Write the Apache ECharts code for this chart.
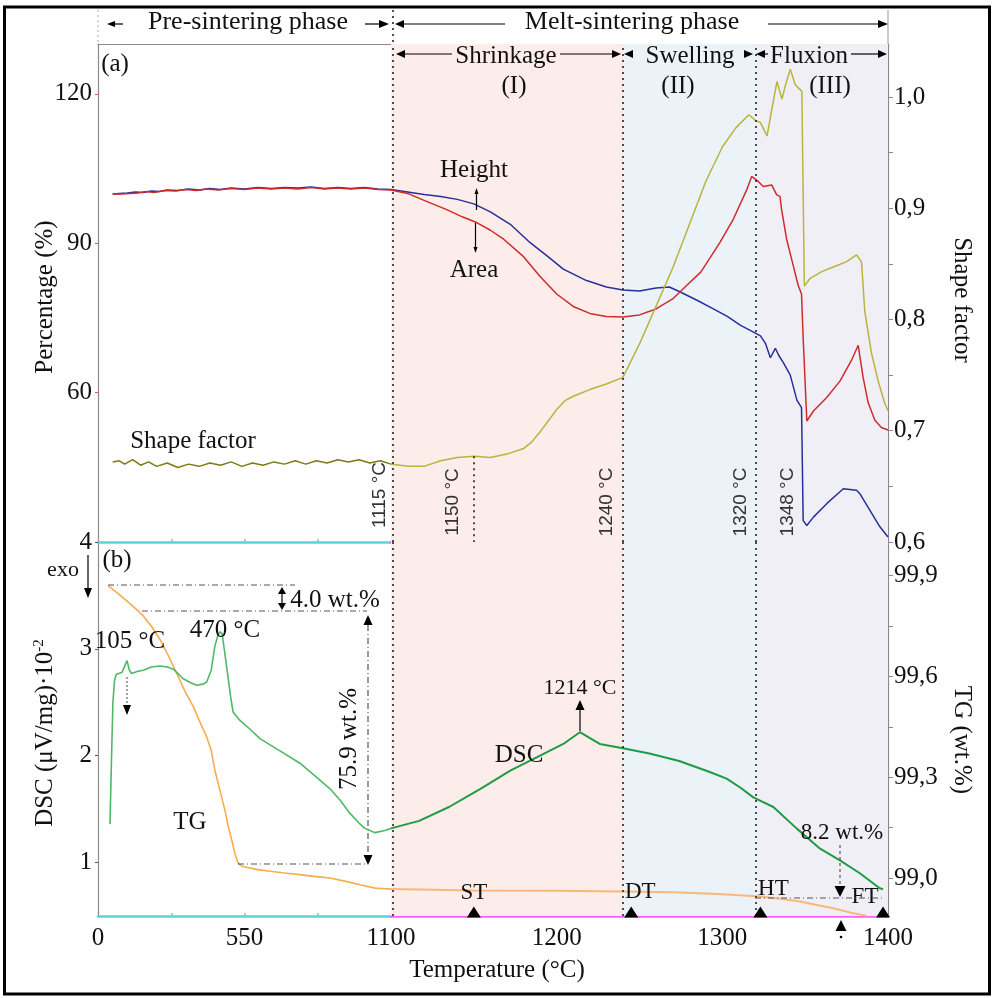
<!DOCTYPE html>
<html><head><meta charset="utf-8">
<script src="https://cdn.jsdelivr.net/npm/echarts@6/dist/echarts.min.js"></script>
<style>html,body{margin:0;padding:0;background:#fff}#c{width:995px;height:998px}</style>
</head><body><div id="c"></div>
<script>
// ---------------- DATA ----------------
// Temperature (°C) vs Height (%) — pre-sintering (0–1100) and melt-sintering (1100–1400)
const heightLeft = [[55,99.9],[80,100],[110,100.1],[140,100.3],[170,100.2],[200,100.5],[230,100.4],[260,100.7],[300,100.6],[340,100.9],[380,100.7],[420,101],[460,100.8],[500,101.1],[550,100.9],[600,101.2],[650,101],[700,101.2],[750,101.1],[800,101.3],[850,101],[900,101.2],[950,101],[1000,101.2],[1050,100.9],[1100,100.8]];
const heightRight = [[1100,100.8],[1110,100.3],[1120,99.8],[1130,99.4],[1140,98.8],[1150,97.9],[1160,96.3],[1172,93.8],[1184,90.1],[1194,87.5],[1204,84.8],[1218,82.5],[1230,81.2],[1240,80.6],[1250,80.4],[1260,81.0],[1268,81.2],[1274,80.3],[1285,78.5],[1294,76.9],[1303,75.3],[1311,73.5],[1318,72.3],[1323,71.4],[1326,69.9],[1329,67.0],[1332,68.9],[1334,67.5],[1337,65.9],[1341,63.5],[1345,58.5],[1347.8,57],[1348.8,34.3],[1351,33.3],[1355,35],[1363,37.7],[1371,40.1],[1373,40.7],[1381,40.4],[1383,39.7],[1389,36.4],[1395,33.1],[1400,31]];
// Area (%)
const areaLeft = [[55,99.9],[90,99.9],[120,100],[150,100.1],[180,100.4],[210,100.2],[250,100.6],[290,100.5],[330,100.8],[370,100.6],[410,100.9],[450,100.7],[500,101],[550,100.8],[600,101.1],[650,100.9],[700,101.1],[750,100.9],[800,101.2],[850,100.9],[900,101.1],[950,100.9],[1000,101.1],[1050,100.8],[1100,100.7]];
const areaRight = [[1100,100.7],[1110,100],[1120,98.6],[1134,96.7],[1143,95.3],[1152,94.1],[1160,92.6],[1168,90.8],[1180,87.3],[1190,83.3],[1200,79.8],[1210,77.3],[1220,75.9],[1230,75.3],[1240,75.2],[1250,75.6],[1260,76.8],[1270,78.8],[1280,82],[1287,84.2],[1298.5,90.1],[1306.6,94.8],[1314.7,100.7],[1317.7,103.4],[1321.7,102.4],[1324.7,101.4],[1329.8,101.7],[1332.8,99.7],[1334.8,99.4],[1335.8,96.7],[1338.8,90.8],[1342.8,85.5],[1345.8,81.5],[1347.8,79.8],[1348.8,70.9],[1351,54.3],[1355,56.3],[1363,59],[1371,62.3],[1378,66.5],[1382,69.5],[1385,63],[1388,58],[1392,54.5],[1396,53],[1400,52.5]];
// Shape factor
const shapeLeft = [[55,0.672],[80,0.673],[100,0.670],[130,0.674],[160,0.669],[190,0.672],[220,0.668],[260,0.671],[300,0.667],[340,0.670],[380,0.668],[420,0.671],[460,0.669],[500,0.672],[540,0.668],[580,0.671],[620,0.669],[660,0.672],[700,0.670],[740,0.673],[780,0.670],[820,0.673],[860,0.671],[900,0.674],[940,0.672],[980,0.674],[1020,0.671],[1060,0.673],[1100,0.670]];
const shapeRight = [[1100,0.670],[1110,0.668],[1120,0.668],[1130,0.673],[1140,0.676],[1150,0.677],[1160,0.676],[1170,0.679],[1180,0.684],[1185,0.690],[1190,0.699],[1195,0.709],[1200,0.719],[1205,0.727],[1210,0.731],[1220,0.737],[1230,0.742],[1240,0.748],[1250,0.778],[1260,0.812],[1270,0.846],[1280,0.885],[1290,0.924],[1300,0.955],[1308,0.972],[1316,0.984],[1320,0.979],[1323,0.977],[1327,0.965],[1330,0.990],[1333,1.014],[1336,0.998],[1338,1.010],[1341,1.025],[1344,1.011],[1348,1.005],[1349.5,0.830],[1353,0.837],[1360,0.843],[1365,0.846],[1370,0.849],[1375,0.852],[1381,0.858],[1384,0.852],[1386,0.807],[1390,0.770],[1394,0.745],[1398,0.725],[1400,0.718]];
// DSC (µV/mg ×10^-2)
const dscLeft = [[45,1.36],[50,1.9],[56,2.5],[62,2.7],[68,2.76],[90,2.78],[109,2.89],[118,2.8],[126,2.77],[150,2.79],[170,2.8],[200,2.83],[233,2.84],[260,2.83],[283,2.81],[320,2.72],[350,2.68],[370,2.66],[395,2.67],[408,2.69],[425,2.8],[439,3.03],[452,3.14],[458,3.16],[466,3.14],[475,2.98],[482,2.85],[489,2.72],[498,2.55],[507,2.41],[533,2.33],[570,2.25],[608,2.16],[680,2.05],[758,1.93],[820,1.8],[871,1.69],[910,1.58],[946,1.46],[980,1.37],[1002,1.32],[1040,1.28],[1077,1.30],[1100,1.32]];
const dscRight = [[1100,1.32],[1117,1.39],[1135,1.52],[1154,1.69],[1172,1.86],[1190,2.0],[1204,2.11],[1214,2.22],[1226,2.11],[1240,2.07],[1256,2.02],[1274,1.95],[1292,1.85],[1302.6,1.785],[1311,1.7],[1318.7,1.61],[1330.8,1.52],[1344.8,1.32],[1359,1.13],[1371,1.02],[1383,0.90],[1395,0.76],[1397,0.75]];
// TG (wt.%)
const tgLeft = [[38,99.87],[70,99.85],[100,99.83],[130,99.81],[170,99.78],[200,99.75],[233,99.71],[265,99.66],[295,99.61],[330,99.55],[358,99.51],[385,99.46],[408,99.42],[425,99.38],[439,99.32],[458,99.26],[477,99.2],[490,99.15],[503,99.11],[515,99.07],[526,99.045],[540,99.035],[552,99.033],[600,99.025],[646,99.02],[700,99.015],[758,99.01],[810,99.005],[871,99.0],[930,98.99],[984,98.98],[1040,98.97],[1100,98.967]];
const tgRight = [[1100,98.967],[1150,98.963],[1200,98.962],[1240,98.96],[1270,98.958],[1286,98.955],[1300,98.952],[1321,98.946],[1335,98.938],[1347,98.93],[1357,98.92],[1367,98.91],[1379,98.895],[1387,98.888]];
// Characteristic temperatures
const charNames = ['ST','DT','HT','FT'];
const charTemps = [1150,1245,1323,1397];
const phaseBounds = [1100,1240,1320,1400];
const markTemps = [1101,1240,1320];
// Tick labels
const pctTicks = [60,90,120];
const sfTicks = [0.6,0.7,0.8,0.9,1.0];
const dscTicks = [1,2,3,4];
const tgTicks = [99.0,99.3,99.6,99.9];
const xLeftLabels = [0,550,1100];
const xRightLabels = [1200,1300,1400];

// ---------------- STYLE ----------------
const SERIF = '"Liberation Serif","Times New Roman",serif';
const SANS = '"Liberation Sans","DejaVu Sans",sans-serif';
const GRAY = '#8a8a8a', CYAN = '#58d6d6', MAG = '#ff5cff';
const FS = 25;
const SFMAX = 1.0476, TGMIN = 98.887;
const comma = v => (+v).toFixed(1).replace('.', ',');
const plain = v => String(Math.round(v));

const chart = echarts.init(document.getElementById('c'), null, {renderer: 'canvas'});

const gridBase = {containLabel: false, outerBoundsMode: 'none'};
const grids = [
  Object.assign({left: 98, top: 44, width: 293, height: 498}, gridBase),
  Object.assign({left: 391, top: 44, width: 497, height: 498}, gridBase),
  Object.assign({left: 98, top: 542, width: 293, height: 374}, gridBase),
  Object.assign({left: 391, top: 542, width: 497, height: 374}, gridBase)
];

const lblStyle = {color: '#111', fontFamily: SERIF, fontSize: FS};
function xAx(g, min, max, color, ticks, labels) {
  return {gridIndex: g, type: 'value', min, max, position: 'bottom',
    axisLine: {show: true, onZero: false, lineStyle: {color, width: 2.5}},
    axisTick: {show: true, inside: true, length: 3, customValues: ticks, lineStyle: {color, width: 1.5}},
    axisLabel: labels ? Object.assign({customValues: labels, margin: 10, formatter: plain}, lblStyle) : {show: false},
    splitLine: {show: false}};
}
function topAx(g, min, max) {
  return {gridIndex: g, type: 'value', min, max, position: 'top',
    axisLine: {show: true, onZero: false, lineStyle: {color: GRAY, width: 1.2}},
    axisTick: {show: false}, axisLabel: {show: false}, splitLine: {show: false}};
}
function hid(g, min, max, pos) {
  return {gridIndex: g, type: 'value', min, max, position: pos, show: false, splitLine: {show: false}};
}
function yAx(g, min, max, pos, labels, ticks, fmt, tickColor) {
  return {gridIndex: g, type: 'value', min, max, position: pos,
    axisLine: {show: true, onZero: false, lineStyle: {color: GRAY, width: 1.2}},
    axisTick: {show: true, length: pos === 'left' ? 3 : 5, customValues: ticks, lineStyle: {color: tickColor || GRAY, width: 1}},
    axisLabel: Object.assign({customValues: labels, margin: 6, formatter: fmt}, lblStyle),
    splitLine: {show: false}};
}

const xAxis = [
  xAx(0, 0, 1100, CYAN, [275, 550, 825], null),
  xAx(1, 1100, 1400, MAG, [1150, 1200, 1250, 1300, 1350], null),
  xAx(2, 0, 1100, CYAN, [275, 550, 825], xLeftLabels),
  xAx(3, 1100, 1400, MAG, [1150, 1200, 1250, 1300, 1350], xRightLabels),
  topAx(0, 0, 1100),
  topAx(1, 1100, 1400)
];
const yAxis = [
  yAx(0, 30, 130, 'left', pctTicks, pctTicks, plain, '#d55'),
  hid(0, 0.6, SFMAX, 'right'),
  hid(1, 30, 130, 'left'),
  yAx(1, 0.6, SFMAX, 'right', sfTicks, [0.6,0.65,0.7,0.75,0.8,0.85,0.9,0.95,1.0], comma),
  yAx(2, 0.5, 4, 'left', dscTicks, dscTicks, plain, '#555'),
  hid(2, TGMIN, 100, 'right'),
  hid(3, 0.5, 4, 'left'),
  yAx(3, TGMIN, 100, 'right', tgTicks, [99.0,99.15,99.3,99.45,99.6,99.75,99.9], comma)
];

function line(name, data, xi, yi, color, w, z) {
  return {name, type: 'line', data, xAxisIndex: xi, yAxisIndex: yi, showSymbol: false, symbol: 'none',
    lineStyle: {color, width: w || 1.5}, itemStyle: {color}, z: z || 3, silent: true};
}

const phaseColors = ['#fcecea', '#ebf2f8', '#f1eff6'];
function bgSeries(xi, yi, yv, extraLines) {
  const areas = [];
  for (let i = 0; i < 3; i++) {
    areas.push([{xAxis: phaseBounds[i], itemStyle: {color: phaseColors[i]}}, {xAxis: phaseBounds[i + 1]}]);
  }
  const lines = markTemps.map(t => ({xAxis: t})).concat(extraLines || []);
  return {type: 'line', xAxisIndex: xi, yAxisIndex: yi, data: [[1100, yv]], symbol: 'none', showSymbol: false,
    lineStyle: {opacity: 0}, z: 1, silent: true,
    markArea: {silent: true, data: areas, label: {show: false}},
    markLine: {silent: true, symbol: ['none', 'none'], label: {show: false},
      lineStyle: {type: [2, 4], color: '#222', width: 1.6}, data: lines}};
}

const chars = charTemps.map((t, i) => ({value: [t, 0.537], label: {formatter: charNames[i],
  offset: [[0, -19], [9, -20], [13, -23], [-18, -15]][i]}}));

const series = [
  bgSeries(1, 3, 0.6, [[{coord: [1150, 0.677]}, {coord: [1150, 0.6]}]]),
  bgSeries(3, 6, 0.5, []),
  // top-left
  line('Height', heightLeft, 0, 0, '#25309a', 1.5),
  line('Area', areaLeft, 0, 0, '#d02b2b', 1.5),
  line('Shape factor', shapeLeft, 0, 1, '#7f7a16', 1.5),
  // top-right
  line('Height', heightRight, 1, 2, '#25309a', 1.5),
  line('Area', areaRight, 1, 2, '#d02b2b', 1.5),
  line('Shape factor', shapeRight, 1, 3, '#b8b43c', 1.5),
  // bottom-left
  line('TG', tgLeft, 2, 5, '#f6ad4a', 1.6),
  line('DSC', dscLeft, 2, 4, '#4fb868', 1.6),
  // bottom-right
  line('TG', tgRight, 3, 7, '#f7b87a', 2),
  line('DSC', dscRight, 3, 6, '#1f9b45', 2),
  {type: 'scatter', xAxisIndex: 3, yAxisIndex: 6, data: chars, symbol: 'triangle', symbolSize: [14, 11],
    itemStyle: {color: '#000', opacity: 1}, z: 6, silent: true,
    label: {show: true, position: 'inside', color: '#111', fontFamily: SERIF, fontSize: 23}}
];

// ---------------- ANNOTATIONS ----------------
function T(x, y, text, o) {
  o = o || {};
  return {type: 'text', x, y, rotation: o.rot || 0, silent: true, z: 100,
    style: {text, x: 0, y: 0, fill: o.color || '#111', fontFamily: o.family || SERIF, fontSize: o.size || FS,
      align: o.align || 'center', verticalAlign: 'middle', rich: o.rich}};
}
function L(x1, y1, x2, y2, o) {
  o = o || {};
  return {type: 'line', silent: true, z: 99, shape: {x1, y1, x2, y2},
    style: {stroke: o.c || '#000', lineWidth: o.w || 1.2, lineDash: o.dash || null}};
}
function H(x, y, dir, len, wid) {
  len = len || 9; wid = wid || 7;
  let p;
  if (dir === 'up') p = [[x, y], [x - wid / 2, y + len], [x + wid / 2, y + len]];
  if (dir === 'down') p = [[x, y], [x - wid / 2, y - len], [x + wid / 2, y - len]];
  if (dir === 'left') p = [[x, y], [x + len, y - wid / 2], [x + len, y + wid / 2]];
  if (dir === 'right') p = [[x, y], [x - len, y - wid / 2], [x - len, y + wid / 2]];
  return {type: 'polygon', silent: true, z: 100, shape: {points: p}, style: {fill: '#000'}};
}
const DD = [6, 3, 1, 3];
const g = [
  {type: 'rect', silent: true, z: 100, shape: {x: 4.5, y: 7, width: 985, height: 987}, style: {fill: 'none', stroke: '#000', lineWidth: 3}},
  // header separators
  L(98, 10, 98, 44, {c: '#bbb', dash: [2, 3]}),
  L(888, 10, 888, 44, {c: '#aaa'}),
  L(393, 10, 393, 44, {c: '#222', w: 1.6, dash: [2, 4]}),
  // Pre-sintering phase
  L(109, 24, 123, 24), H(107, 24, 'left', 8, 6),
  T(248, 22, 'Pre-sintering phase', {size: 26}),
  L(365, 24, 380, 24), H(389, 24, 'right', 10, 8),
  // Melt-sintering phase
  L(402, 24, 505, 24), H(395, 24, 'left', 9, 8),
  T(632, 22, 'Melt-sintering phase', {size: 26}),
  L(768, 24, 880, 24), H(888, 24, 'right', 10, 8),
  // Shrinkage
  L(404, 54, 452, 54), H(396, 54, 'left', 9, 8),
  T(506, 56, 'Shrinkage'), T(514, 86, '(I)'),
  L(560, 54, 613, 54), H(621, 54, 'right', 9, 8),
  // Swelling
  H(624, 54, 'left', 9, 8), T(690, 56, 'Swelling'), T(678, 86, '(II)'), H(753, 54, 'right', 9, 8),
  // Fluxion
  H(756, 54, 'left', 9, 8), L(764, 54, 768, 54), T(809, 56, 'Fluxion'), T(830, 86, '(III)'),
  L(851, 54, 878, 54), H(887, 54, 'right', 9, 8),
  // panel labels
  T(115, 64, '(a)'), T(117, 560, '(b)'),
  // top panel annotations
  T(474, 170, 'Height'), T(474, 270, 'Area'),
  L(476.5, 193, 476.5, 210), H(476.5, 188, 'up', 6, 4),
  L(475.5, 223, 475.5, 248), H(475.5, 253, 'down', 6, 4),
  T(193, 441, 'Shape factor'),
  T(380, 495, '1115 °C', {rot: Math.PI / 2, family: SANS, size: 19, color: '#333'}),
  T(453, 502, '1150 °C', {rot: Math.PI / 2, family: SANS, size: 19, color: '#333'}),
  T(607, 502, '1240 °C', {rot: Math.PI / 2, family: SANS, size: 19, color: '#333'}),
  T(741, 502, '1320 °C', {rot: Math.PI / 2, family: SANS, size: 19, color: '#333'}),
  T(788, 502, '1348 °C', {rot: Math.PI / 2, family: SANS, size: 19, color: '#333'}),
  // bottom panel annotations
  T(63, 570, 'exo', {size: 22}), L(88, 555, 88, 590), H(88, 598, 'down', 10, 8),
  T(130, 641, '105 °C'), L(127, 677, 127, 705, {c: '#666', dash: [2, 2]}), H(127, 715, 'down', 10, 8),
  T(225, 630, '470 °C'),
  L(108, 585, 295, 585, {c: '#555', dash: DD}),
  L(142, 611, 367, 611, {c: '#555', dash: DD}),
  L(282, 593, 282, 604), H(282, 587, 'up', 7, 8), H(282, 610, 'down', 7, 8),
  T(335, 600, '4.0 wt.%'),
  L(368, 625, 368, 855, {c: '#555', dash: DD}), H(368, 615, 'up', 10, 9), H(368, 865, 'down', 10, 9),
  T(349, 739, '75.9 wt.%', {rot: Math.PI / 2}),
  L(238, 864, 368, 864, {c: '#555', dash: DD}),
  T(190, 822, 'TG'), T(519, 755, 'DSC'),
  T(580, 688, '1214 °C', {size: 22}), L(580, 708, 580, 731), H(580, 700, 'up', 10, 9),
  T(842, 833, '8.2 wt.%', {size: 23}),
  L(840, 845, 840, 887, {c: '#555', dash: [3, 3]}), H(840, 897, 'down', 11, 11),
  L(755, 898, 884, 898, {c: '#555', dash: DD}),
  H(841, 920, 'up', 11, 11), {type: 'circle', silent: true, z: 100, shape: {cx: 841, cy: 937, r: 1.3}, style: {fill: '#000'}},
  // axis names
  T(45, 297, 'Percentage (%)', {rot: Math.PI / 2}),
  T(45, 733, '{n|DSC (μV/mg)·10}{s|-2}', {rot: Math.PI / 2, rich: {n: {fontFamily: SERIF, fontSize: FS, fill: '#111', color: '#111'}, s: {fontFamily: SERIF, fontSize: 15, color: '#111', fill: '#111', padding: [0, 0, 12, 0]}}}),
  T(962, 300, 'Shape factor', {rot: -Math.PI / 2}),
  T(962, 740, 'TG (wt.%)', {rot: -Math.PI / 2}),
  T(497, 970, 'Temperature (°C)')
];

chart.setOption({
  animation: false,
  backgroundColor: '#fff',
  grid: grids,
  xAxis, yAxis, series,
  graphic: g
});
</script></body></html>
